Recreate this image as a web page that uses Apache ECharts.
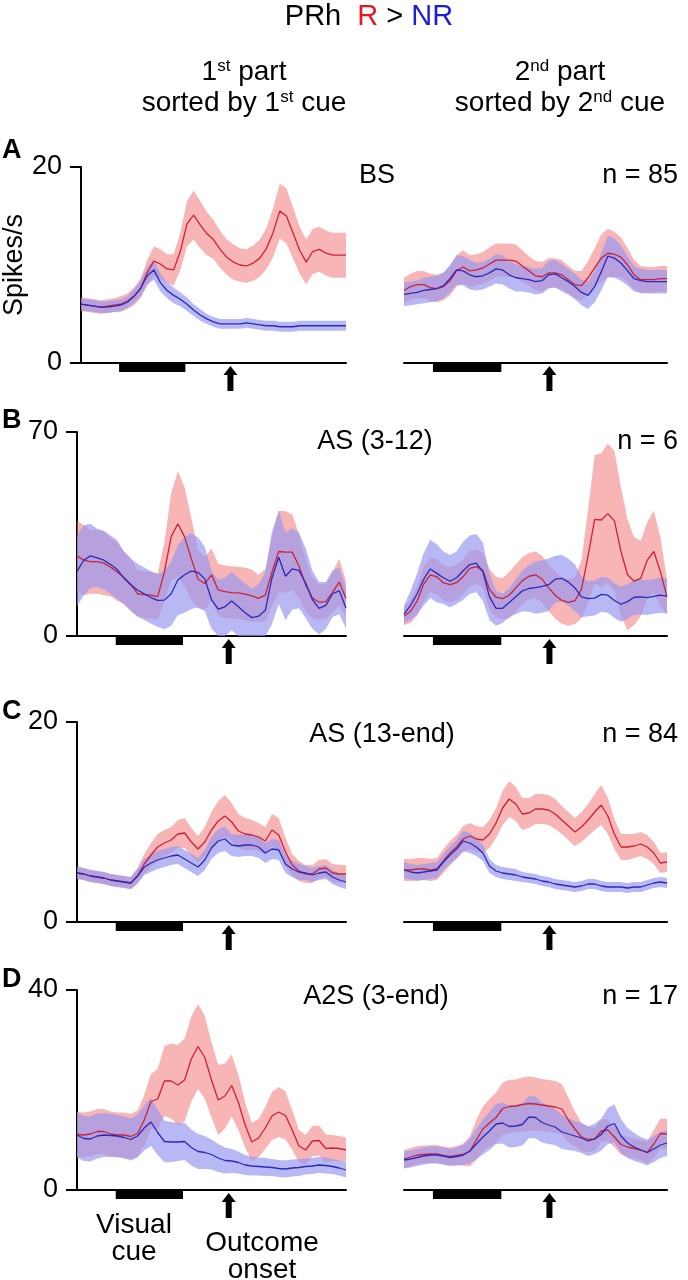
<!DOCTYPE html>
<html><head><meta charset="utf-8">
<script src="https://cdn.jsdelivr.net/npm/echarts@6/dist/echarts.min.js"></script>
<style>html,body{margin:0;padding:0;background:#fff}#c{width:688px;height:1280px}</style>
</head><body><div id="c"></div>
<script>
// time grid (percent of trial window shown)
const T = [0,2.5,5,7.5,10,12.5,15,17.5,20,22.5,25,27.5,30,32.5,35,37.5,40,42.5,45,47.5,50,52.5,55,57.5,60,62.5,65,67.5,70,72.5,75,77.5,80,82.5,85,87.5,90,92.5,95,97.5,100];

// cue bar / outcome arrow timing per column
const cueLeft = [14.4, 39.4, 56.4];
const cueRight = [11.0, 37.0, 55.3];

// y-axis maxima per row
const yMax = [20, 70, 20, 40];
const rowNames = ['BS', 'AS (3-12)', 'AS (13-end)', 'A2S (3-end)'];
const rowN = ['n = 85', 'n = 6', 'n = 84', 'n = 17'];
const rowLetters = ['A', 'B', 'C', 'D'];

// Row A (BS)
const A1_R  = [6.0,5.9,5.8,5.7,5.8,5.9,6.0,6.3,6.8,7.6,9.2,10.4,10.1,9.6,9.5,11.4,14.2,15.1,14.1,13.2,12.6,11.6,10.8,10.3,10.0,9.9,10.2,10.7,11.7,13.3,15.5,15.0,13.3,11.5,10.3,11.4,11.6,11.2,11.0,11.0,11.0];
const A1_RE = [0.7,0.7,0.7,0.7,0.7,0.7,0.8,0.8,0.9,1.0,1.3,1.5,1.5,1.5,1.6,1.9,2.3,2.5,2.4,2.2,2.0,1.9,1.8,1.8,1.7,1.7,1.8,1.9,2.1,2.5,2.8,2.8,2.6,2.4,2.3,2.3,2.3,2.3,2.3,2.3,2.3];
const A1_B  = [6.0,5.9,5.8,5.7,5.7,5.8,5.9,6.2,6.8,7.6,8.9,9.5,8.2,7.4,6.9,6.5,6.0,5.4,4.9,4.5,4.2,4.0,4.0,4.0,4.0,4.1,4.0,3.9,3.8,3.8,3.7,3.7,3.7,3.8,3.8,3.8,3.8,3.8,3.8,3.8,3.8];
const A1_BE = [0.6,0.6,0.6,0.6,0.6,0.6,0.6,0.6,0.7,0.8,0.9,1.0,0.9,0.8,0.8,0.7,0.7,0.6,0.6,0.5,0.5,0.5,0.5,0.5,0.5,0.5,0.5,0.5,0.5,0.5,0.5,0.5,0.5,0.5,0.5,0.5,0.5,0.5,0.5,0.5,0.5];
const A2_R  = [7.4,7.8,8.0,8.0,7.7,7.6,7.8,8.4,9.4,9.8,9.4,9.5,9.7,10.1,10.5,10.5,10.5,10.4,9.9,9.4,8.9,8.8,9.2,9.2,9.0,8.5,8.0,7.9,8.7,9.7,10.7,11.2,11.1,10.8,10.0,9.0,8.5,8.5,8.5,8.6,8.6];
const A2_RE = [1.3,1.3,1.4,1.4,1.4,1.4,1.4,1.5,1.6,1.7,1.6,1.6,1.6,1.7,1.7,1.7,1.7,1.7,1.6,1.5,1.5,1.5,1.5,1.5,1.5,1.4,1.4,1.5,1.7,2.0,2.4,2.5,2.3,2.0,1.7,1.5,1.4,1.3,1.3,1.3,1.3];
const A2_B  = [7.0,7.1,7.2,7.4,7.5,7.6,7.9,8.6,9.5,9.4,9.0,8.8,8.9,9.2,9.6,9.5,9.0,8.7,8.6,8.5,8.3,8.4,9.0,9.1,8.7,8.3,7.8,7.2,6.9,7.8,9.3,10.9,10.7,10.2,9.4,8.6,8.4,8.3,8.3,8.3,8.3];
const A2_BE = [1.2,1.2,1.2,1.3,1.3,1.3,1.3,1.4,1.5,1.5,1.5,1.4,1.4,1.4,1.5,1.5,1.4,1.4,1.3,1.3,1.3,1.3,1.4,1.4,1.4,1.3,1.3,1.3,1.4,1.6,1.9,2.1,2.0,1.8,1.5,1.3,1.2,1.2,1.2,1.2,1.2];

// Row B (AS 3-12)
const B1_R  = [27.5,26.0,25.5,25.5,25.0,23.6,22.0,20.0,17.8,14.5,14.2,14.0,13.5,22.0,34.0,38.5,34.0,26.5,19.5,18.0,21.0,15.8,15.2,14.9,14.8,14.4,13.8,12.9,14.0,22.0,29.0,28.8,28.8,24.0,17.5,13.0,11.6,11.8,15.0,18.5,12.9];
const B1_RE = [12,12,11,11,11,10,10,9,9,8,8,8,8,10,15,18,17,14,10,9,9,9,9,9,9,9,9,8,9,12,14,14,13,11,9,7,6,6,7,8,6];
const B1_B  = [22.2,26.0,27.5,26.8,26.0,24.5,22.8,19.8,17.5,15.8,14.5,13.2,12.2,12.3,14.5,19.2,21.0,22.3,21.8,19.6,12.5,9.2,10.0,12.0,10.0,8.0,6.3,6.8,8.8,20.0,27.0,20.5,23.0,22.5,18.2,12.5,9.5,10.5,14.5,15.5,9.6];
const B1_BE = [12,12,11,10,10,10,10,9,9,9,9,9,9,10,11,12,13,13,12,11,10,10,10,10,10,10,10,11,13,16,16,15,14,13,12,10,9,8,8,8,7];
const B2_R  = [6.8,8.5,12.0,17.8,21.0,20.3,18.2,17.6,18.3,20.4,23.2,23.8,22.5,16.0,13.3,12.8,14.0,16.5,19.0,20.5,21.0,19.5,16.5,14.0,12.2,11.5,12.1,16.1,27.5,40.0,39.8,42.0,39.5,29.0,21.0,18.8,19.8,26.0,29.0,22.0,13.4];
const B2_RE = [3,4,5,6,6,6,6,6,6,6,6,6,6,7,7,7,8,8,8,8,8,8,8,8,8,8,8,10,16,22,23,24,24,22,19,15,13,13,14,12,6];
const B2_B  = [7.5,10.5,14.5,19.5,23.0,21.5,20.0,18.8,20.0,22.4,24.5,25.0,22.0,13.5,9.5,9.5,11.5,13.5,15.5,16.3,16.6,17.0,17.6,19.5,19.8,18.5,16.5,13.4,12.8,13.0,14.3,14.0,12.2,10.9,11.8,13.3,13.4,13.2,13.6,14.0,13.7];
const B2_BE = [3,5,7,9,10,10,9,9,9,10,10,10,10,8,6,5,5,6,7,8,9,9,9,8,8,8,8,7,6,6,6,6,6,6,6,6,6,6,6,6,6];

// Row C (AS 13-end)
const C1_R  = [4.9,4.8,4.6,4.5,4.4,4.2,4.1,4.0,3.9,4.6,5.8,6.7,7.5,7.9,8.2,8.8,8.9,8.0,7.3,8.0,9.2,10.1,10.6,10.0,9.1,8.8,8.7,8.5,8.1,9.2,8.7,7.0,5.7,5.1,4.8,4.8,5.3,5.4,4.9,4.8,4.8];
const C1_RE = [0.6,0.6,0.6,0.6,0.6,0.6,0.6,0.6,0.6,0.8,1.0,1.2,1.3,1.3,1.3,1.4,1.5,1.4,1.3,1.5,1.8,2.0,2.1,1.9,1.7,1.6,1.5,1.4,1.4,1.6,1.7,1.4,1.1,1.0,0.9,0.9,0.9,0.9,0.9,0.9,0.9];
const C1_B  = [4.9,4.8,4.6,4.5,4.4,4.2,4.1,4.0,3.9,4.6,5.5,5.9,6.2,6.4,6.6,6.7,6.3,5.9,5.5,6.2,7.4,8.1,8.3,7.7,7.6,7.7,7.7,7.5,6.9,7.3,7.2,5.8,5.3,5.0,4.9,4.7,4.9,5.0,4.5,4.2,4.0];
const C1_BE = [0.6,0.6,0.6,0.6,0.6,0.6,0.6,0.6,0.6,0.7,0.8,0.9,0.9,0.9,0.9,0.9,0.9,0.9,0.9,1.0,1.1,1.2,1.2,1.1,1.1,1.1,1.1,1.1,1.0,1.0,1.0,0.9,0.8,0.8,0.7,0.7,0.7,0.7,0.7,0.7,0.7];
const C2_R  = [5.2,5.2,5.3,5.3,5.2,5.3,6.1,6.9,7.5,8.3,8.6,8.3,8.2,8.8,9.9,11.4,12.3,11.8,10.8,10.9,11.3,11.3,11.2,10.8,10.2,9.6,9.0,9.5,10.2,11.0,11.7,10.6,8.8,7.5,7.5,7.6,7.8,7.5,6.9,5.9,6.0];
const C2_RE = [1.1,1.1,1.1,1.1,1.1,1.1,1.2,1.2,1.2,1.3,1.3,1.3,1.3,1.4,1.5,1.7,1.8,1.7,1.6,1.5,1.5,1.5,1.5,1.5,1.4,1.4,1.4,1.5,1.6,1.8,2.0,1.8,1.5,1.3,1.3,1.2,1.2,1.2,1.1,1.0,1.0];
const C2_B  = [5.2,5.0,4.9,5.0,5.1,5.2,6.0,6.7,7.3,8.1,7.9,7.5,6.9,5.6,5.1,4.9,4.8,4.7,4.5,4.4,4.3,4.1,4.0,3.8,3.7,3.6,3.5,3.6,3.8,3.8,3.6,3.5,3.5,3.5,3.4,3.5,3.5,3.7,3.9,4.0,3.9];
const C2_BE = [0.8,0.8,0.8,0.8,0.8,0.8,0.8,0.9,0.9,1.0,1.0,0.9,0.8,0.7,0.6,0.6,0.6,0.6,0.5,0.5,0.5,0.5,0.5,0.5,0.5,0.5,0.5,0.5,0.5,0.5,0.5,0.5,0.5,0.5,0.5,0.5,0.5,0.5,0.5,0.5,0.5];

// Row D (A2S 3-end)
const D1_R  = [11.1,11.0,11.2,11.7,11.7,11.2,11.0,11.0,10.7,11.3,14.0,17.7,18.2,21.8,21.8,21.0,22.0,26.2,28.7,26.5,22.0,18.0,18.8,20.9,17.5,13.0,9.6,10.4,12.4,14.8,15.6,14.9,12.0,8.8,8.0,9.8,9.9,8.3,8.4,8.3,8.0];
const D1_RE = [4.5,4.5,4.5,4.5,4.5,4.5,4.5,4.5,4.5,4.6,5.0,5.5,6.0,7.0,7.5,8.0,8.3,8.5,8.5,8.3,7.5,7.0,6.5,6.2,5.5,4.5,3.8,3.8,4.2,4.8,5.0,4.8,4.0,3.2,3.0,3.0,3.0,2.8,2.6,2.5,2.5];
const D1_B  = [11.0,10.3,10.2,10.8,11.0,10.9,10.8,10.5,10.1,10.8,12.4,13.6,11.5,9.7,9.6,9.6,9.7,8.5,7.7,7.5,7.1,6.4,5.9,5.8,5.5,5.0,4.8,4.7,4.6,4.5,4.3,4.2,4.4,4.5,4.7,4.8,5.0,4.9,4.7,4.4,4.0];
const D1_BE = [4.5,4.5,4.5,4.5,4.4,4.3,4.2,4.2,4.2,4.3,4.5,4.8,4.5,4.2,4.0,3.8,3.7,3.6,3.5,3.3,3.0,2.8,2.6,2.4,2.2,2.0,1.9,1.8,1.8,1.7,1.7,1.7,1.7,1.7,1.6,1.6,1.6,1.6,1.5,1.5,1.5];
const D2_R  = [6.2,6.6,7.0,7.1,7.2,7.2,6.9,6.7,6.9,7.1,7.7,10.0,12.2,13.4,14.5,16.3,16.7,16.8,17.1,17.3,17.2,17.0,16.8,16.6,16.2,14.0,12.2,10.6,10.1,10.2,11.8,12.0,10.6,9.1,8.6,8.3,8.0,7.5,9.2,11.3,11.2];
const D2_RE = [1.8,1.8,1.8,1.8,1.8,1.8,1.8,1.8,1.9,2.2,3.0,4.0,4.5,4.8,5.0,5.2,5.3,5.3,5.4,5.4,5.3,5.2,5.2,5.2,5.0,4.5,3.5,2.8,2.5,2.3,2.2,2.2,2.0,2.0,2.0,2.0,2.0,2.2,2.8,3.0,3.0];
const D2_B  = [6.0,6.2,6.5,6.8,7.0,7.0,6.8,6.5,6.7,7.0,7.8,9.2,10.6,11.8,13.2,13.4,12.7,12.8,13.1,14.6,14.5,13.5,13.0,12.6,11.6,11.2,10.8,10.4,9.8,10.2,11.1,12.8,13.3,10.8,9.4,8.6,8.0,7.5,8.2,9.0,9.4];
const D2_BE = [1.7,1.7,1.7,1.7,1.7,1.7,1.7,1.7,1.8,2.0,2.5,3.0,3.5,3.8,4.0,4.1,4.2,4.2,4.2,4.2,4.2,4.0,3.8,3.6,3.4,3.2,3.0,3.0,3.0,3.0,3.2,3.6,3.8,3.4,3.0,2.8,2.6,2.6,2.6,2.6,2.6];

const panelData = [
  [A1_R, A1_RE, A1_B, A1_BE], [A2_R, A2_RE, A2_B, A2_BE],
  [B1_R, B1_RE, B1_B, B1_BE], [B2_R, B2_RE, B2_B, B2_BE],
  [C1_R, C1_RE, C1_B, C1_BE], [C2_R, C2_RE, C2_B, C2_BE],
  [D1_R, D1_RE, D1_B, D1_BE], [D2_R, D2_RE, D2_B, D2_BE]
];

// ---- layout / style ----
const FONT = '"Liberation Sans", Arial, Helvetica, sans-serif';
const rowTop = [167, 432, 722, 990];
const rowZero = [363, 636, 922, 1190];
const colLeft = [77, 404];
const colW = [269, 263];
const RED_LINE = '#cc2236', BLUE_LINE = '#2a2ab8';
const RED_BAND = 'rgba(242,120,120,0.55)', BLUE_BAND = 'rgba(150,150,240,0.68)';

const chart = echarts.init(document.getElementById('c'), null, {renderer: 'canvas'});

const grids = [], xAxes = [], yAxes = [], series = [];

function bandSeries(gi, mean, err, color) {
  const n = Math.min(T.length, mean.length, err.length);
  const data = [];
  for (let j = 0; j < n; j++) data.push([T[j], Math.max(0, mean[j] - err[j]), mean[j] + err[j]]);
  return {
    type: 'custom', xAxisIndex: gi, yAxisIndex: gi, z: 2, clip: true, silent: true,
    encode: {x: 0, y: [1, 2]},
    data: data,
    renderItem: function (params, api) {
      if (params.dataIndex !== 0) return null;
      const pts = [];
      for (let j = 0; j < data.length; j++) pts.push(api.coord([data[j][0], data[j][2]]));
      for (let j = data.length - 1; j >= 0; j--) pts.push(api.coord([data[j][0], data[j][1]]));
      return {type: 'polygon', shape: {points: pts}, style: {fill: color, stroke: null}};
    }
  };
}

function lineSeries(gi, mean, color) {
  const n = Math.min(T.length, mean.length);
  const data = [];
  for (let j = 0; j < n; j++) data.push([T[j], mean[j]]);
  return {
    type: 'line', xAxisIndex: gi, yAxisIndex: gi, z: 3, silent: true,
    showSymbol: false, symbol: 'none', animation: false,
    lineStyle: {color: color, width: 1.3}, data: data
  };
}

function markerSeries(gi, cue) {
  return {
    type: 'custom', xAxisIndex: gi, yAxisIndex: gi, z: 5, clip: false, silent: true,
    data: [[cue[0], cue[1], cue[2]]],
    renderItem: function (params, api) {
      const a = api.coord([api.value(0), 0]);
      const b = api.coord([api.value(1), 0]);
      const o = api.coord([api.value(2), 0]);
      const y0 = a[1];
      return {type: 'group', children: [
        {type: 'rect', shape: {x: a[0], y: y0, width: b[0] - a[0], height: 9}, style: {fill: '#000'}},
        {type: 'polygon', shape: {points: [[o[0], y0 + 3], [o[0] - 7, y0 + 12], [o[0] + 7, y0 + 12]]}, style: {fill: '#000'}},
        {type: 'rect', shape: {x: o[0] - 3, y: y0 + 11, width: 6, height: 17}, style: {fill: '#000'}}
      ]};
    }
  };
}

for (let r = 0; r < 4; r++) {
  for (let c = 0; c < 2; c++) {
    const gi = r * 2 + c;
    grids.push({left: colLeft[c], top: rowTop[r], width: colW[c], height: rowZero[r] - rowTop[r], containLabel: false});
    xAxes.push({
      type: 'value', gridIndex: gi, min: 0, max: 100,
      axisLine: {show: true, onZero: false, lineStyle: {color: '#000', width: 2}},
      axisTick: {show: false}, axisLabel: {show: false}, splitLine: {show: false}
    });
    const y = {
      type: 'value', gridIndex: gi, min: 0, max: yMax[r], interval: yMax[r],
      splitLine: {show: false}
    };
    if (c === 0) {
      y.axisLine = {show: true, lineStyle: {color: '#000', width: 2}};
      y.axisTick = {show: true, length: 11, lineStyle: {color: '#000', width: 2}};
      y.axisLabel = {show: true, color: '#000', fontSize: 27, fontFamily: FONT, margin: 19};
      if (r === 0) {
        y.name = 'Spikes/s';
        y.nameLocation = 'middle';
        y.nameRotate = 90;
        y.nameGap = 48;
        y.nameTextStyle = {color: '#000', fontSize: 27, fontFamily: FONT};
      }
    } else {
      y.show = false;
    }
    yAxes.push(y);
    const d = panelData[gi];
    series.push(bandSeries(gi, d[0], d[1], RED_BAND));
    series.push(bandSeries(gi, d[2], d[3], BLUE_BAND));
    series.push(lineSeries(gi, d[0], RED_LINE));
    series.push(lineSeries(gi, d[2], BLUE_LINE));
    series.push(markerSeries(gi, c === 0 ? cueLeft : cueRight));
  }
}

// ---- texts ----
function txt(x, y, text, opts) {
  const st = Object.assign({text: text, fill: '#000', fontSize: 27, fontFamily: FONT, align: 'center', verticalAlign: 'middle'}, opts || {});
  return {type: 'text', x: x, y: y, silent: true, style: st};
}
const supRich = {
  n: {fontSize: 28, fontFamily: FONT, fill: '#000'},
  s: {fontSize: 17, fontFamily: FONT, fill: '#000', verticalAlign: 'top'}
};
const graphics = [
  txt(369, 17, '{k|PRh  }{r|R}{k| > }{b|NR}', {rich: {
    k: {fill: '#000', fontSize: 29, fontFamily: FONT},
    r: {fill: '#e3191f', fontSize: 29, fontFamily: FONT},
    b: {fill: '#1c1cdc', fontSize: 29, fontFamily: FONT}}}),
  txt(244, 72, '{n|1}{s|st}{n| part}', {rich: supRich}),
  txt(244, 103, '{n|sorted by 1}{s|st}{n| cue}', {rich: supRich}),
  txt(560, 72, '{n|2}{s|nd}{n| part}', {rich: supRich}),
  txt(560, 103, '{n|sorted by 2}{s|nd}{n| cue}', {rich: supRich}),
  txt(134, 1225, 'Visual', {fontSize: 28}),
  txt(134, 1252, 'cue', {fontSize: 28}),
  txt(262, 1243, 'Outcome', {fontSize: 28}),
  txt(262, 1270, 'onset', {fontSize: 28})
];
const letterY = [151, 421, 712, 980];
const nameY = [176, 442, 735, 997];
const nameX = [377, 375, 382, 376];
for (let r = 0; r < 4; r++) {
  graphics.push(txt(2, letterY[r], rowLetters[r], {align: 'left', fontWeight: 'bold', fontSize: 27}));
  graphics.push(txt(nameX[r], nameY[r], rowNames[r]));
  graphics.push(txt(678, nameY[r], rowN[r], {align: 'right'}));
}

chart.setOption({
  animation: false,
  backgroundColor: '#fff',
  grid: grids, xAxis: xAxes, yAxis: yAxes, series: series,
  graphic: graphics
});
</script></body></html>
